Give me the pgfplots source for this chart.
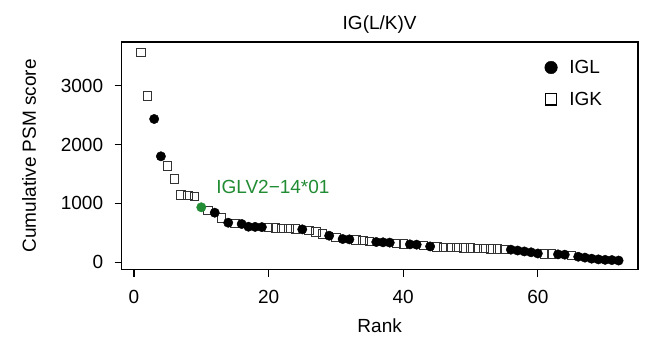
\documentclass[border=0pt]{standalone}
\usepackage{fontspec}
\setmainfont{Liberation Sans}
\usepackage{pgfplots}
\pgfplotsset{compat=1.18}
\usepackage{pgfplotstable}
\definecolor{ggreen}{rgb}{0.13,0.55,0.20}
\pgfplotstableread{
x y
1 3570
2 2826
5 1641
6 1415
7 1144
8 1132
9 1115
11 877
13 758
15 665
20 590
21 585
22 580
23 575
24 570
26 540
27 515
28 480
30 425
33 380
34 370
35 360
39 320
40 315
43 290
45 262
46 258
47 254
48 250
49 246
50 242
51 238
52 234
53 230
54 225
55 220
61 145
62 140
65 115
}\igk
\pgfplotstableread{
x y
3 2435
4 1801
12 843
14 673
16 651
17 605
18 602
19 598
25 560
29 452
31 396
32 390
36 345
37 340
38 335
41 305
42 300
44 270
56 215
57 200
58 185
59 170
60 150
63 135
64 130
66 95
67 80
68 62
69 50
70 42
71 38
72 30
}\igl
\pgfplotstableread{
x y
10 935
}\iglgreen
\begin{document}
\begin{tikzpicture}
\path[use as bounding box] (0,0) rectangle (647bp,343bp);
\begin{axis}[
  at={(121.6bp,73.5bp)}, anchor=south west,
  scale only axis, width=516.1bp, height=227.5bp,
  xmin=-1.84, xmax=74.84, ymin=-122, ymax=3743,
  axis line style={line width=1.6bp},
  xtick={0,20,40,60}, ytick={0,1000,2000,3000},
  tick align=outside, tick pos=left,
  major tick length=7bp, tick style={line width=1.2bp, black},
  /pgf/number format/assume math mode=true,
  scaled ticks=false,
  yticklabel style={/pgf/number format/set thousands separator={}},
  ticklabel style={font=\fontsize{19bp}{22bp}\selectfont},
  xticklabel style={anchor=base, yshift=-27bp},
  yticklabel style={anchor=east, xshift=-8bp},
  title={IG(L/K)V},
  title style={font=\fontsize{19bp}{22bp}\selectfont, at={(0.5,1)}, anchor=base, yshift=7bp},
  xlabel={Rank},
  xlabel style={font=\fontsize{19bp}{22bp}\selectfont, at={(0.5,0)}, anchor=base, yshift=-62.5bp},
  ylabel={Cumulative PSM score},
  ylabel style={font=\fontsize{19bp}{22bp}\selectfont, at={(0,0.5)}, anchor=center, yshift=92.6bp},
  legend style={draw=none, fill=none, at={(0.812,0.93)}, anchor=north west,
    font=\fontsize{19bp}{22bp}\selectfont, row sep=13bp, inner sep=0pt},
  legend cell align=left,
  legend image code/.code={\path (-10bp,0bp) (16bp,0bp); \draw[#1] plot coordinates {(0bp,0bp)};},
  clip=false,
]
\addplot[only marks, mark=square, mark size=4.2bp, draw=black!80, mark options={line width=0.8bp}, forget plot] table[x=x,y=y] {\igk};
\addplot[only marks, mark=*, mark size=4.7bp, draw=black, fill=black, forget plot] table[x=x,y=y] {\igl};
\addplot[only marks, mark=*, mark size=4.7bp, draw=ggreen, fill=ggreen, forget plot] table[x=x,y=y] {\iglgreen};
\addlegendimage{only marks, mark=*, mark size=6.3bp, draw=black, fill=black}
\addlegendentry{IGL}
\addlegendimage{only marks, mark=square, mark size=5.6bp, draw=black, mark options={line width=1.4bp}}
\addlegendentry{IGK}
\node[anchor=west, inner sep=0pt, text=ggreen, font=\fontsize{19bp}{22bp}\selectfont] at (axis cs:12.2,1285) {IGLV2−14*01};
\end{axis}
\end{tikzpicture}
\end{document}
